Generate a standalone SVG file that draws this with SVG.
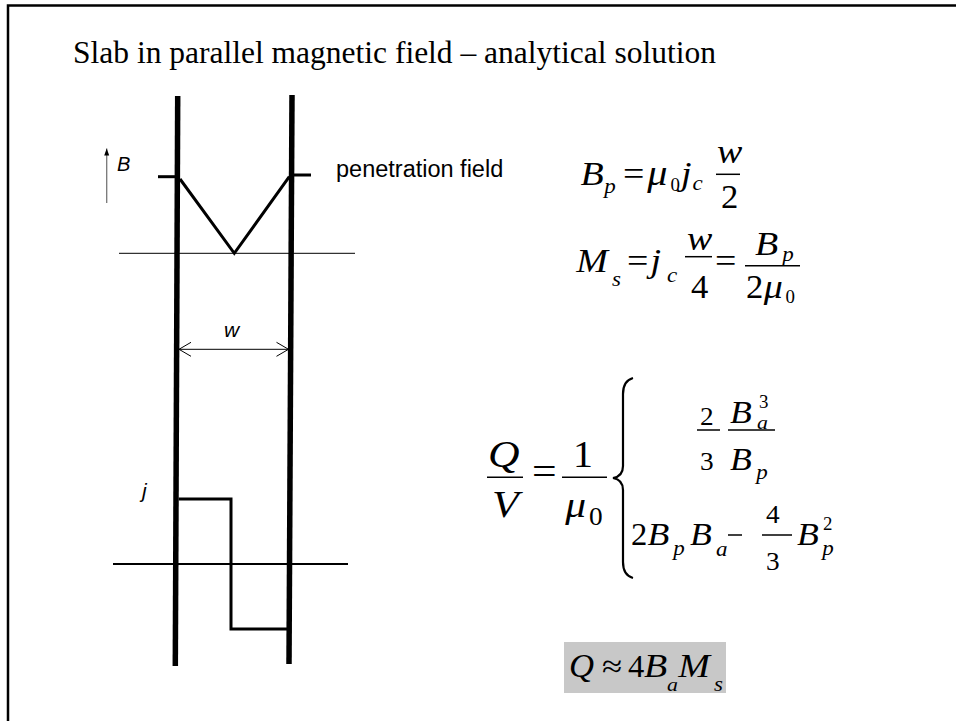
<svg xmlns="http://www.w3.org/2000/svg" width="956" height="721" viewBox="0 0 956 721">
<style>
  .serif { font-family: "Liberation Serif", "Times New Roman", serif; fill: #000; }
  .it { font-style: italic; }
  .eq { transform-box: fill-box; transform-origin: 0 0; transform: scaleX(1.15); }
  .eqd { transform-box: fill-box; transform-origin: 0 0; transform: scaleX(1.05); }
  .sans { font-family: "Liberation Sans", Arial, sans-serif; fill: #000; }
  .bar { stroke: #000; stroke-width: 1.5; fill: none; }
  .thick { stroke: #000; stroke-width: 5.5; fill: none; }
  .prof { stroke: #000; stroke-width: 3; fill: none; stroke-linejoin: miter; }
  .thin { stroke: #000; stroke-width: 1; fill: none; }
  marker { overflow: visible; }
</style>
<defs>
  <marker id="arrB" viewBox="0 0 7 5" refX="7" refY="2.5" markerWidth="7" markerHeight="5" markerUnits="userSpaceOnUse" orient="auto">
    <path d="M0,0 L7,2.5 L0,5 Z" fill="#000"/>
  </marker>
  <marker id="openArr" viewBox="0 0 12 14" refX="12" refY="7" markerWidth="12" markerHeight="14" markerUnits="userSpaceOnUse" orient="auto-start-reverse">
    <path d="M0,0 L12,7 L0,14" fill="none" stroke="#000" stroke-width="1"/>
  </marker>
</defs>
<rect x="0" y="0" width="956" height="721" fill="#fff"/>
<g id="frame">
  <path d="M8,725 L8,5.5 L960,5.5" fill="none" stroke="#000" stroke-width="2.5"/>
</g>
<g id="title">
  <text class="serif" x="73" y="63" font-size="31.5">Slab in parallel magnetic field – analytical solution</text>
</g>
<g id="slab">
  <line class="thick" x1="177.7" y1="96" x2="175.3" y2="666"/>
  <line class="thick" x1="292" y1="95" x2="289" y2="664"/>
</g>
<g id="field-profile">
  <line class="thin" x1="119" y1="253.3" x2="355" y2="253.3"/>
  <line class="prof" x1="158" y1="176.7" x2="177" y2="176.7"/>
  <line class="prof" x1="292" y1="175" x2="311" y2="175"/>
  <polyline class="prof" points="180,179 234.3,253.3 289.3,176.7"/>
  <line x1="106.7" y1="203" x2="106.7" y2="148.5" stroke="#777" stroke-width="1.3" marker-end="url(#arrB)"/>
  <text class="sans it" x="117" y="170.7" font-size="20">B</text>
  <text class="sans" x="336" y="177" font-size="23.5">penetration field</text>
</g>
<g id="width-dim">
  <line class="thin" x1="179" y1="349.3" x2="288.5" y2="349.3" marker-start="url(#openArr)" marker-end="url(#openArr)"/>
  <text class="sans it" x="224" y="336.7" font-size="21">w</text>
</g>
<g id="current-profile">
  <line x1="113" y1="564" x2="348" y2="564" stroke="#000" stroke-width="2"/>
  <polyline class="prof" points="178.7,499 231,499 231,629 287,629"/>
  <text class="sans it" x="142" y="498" font-size="21">j</text>
</g>
<g id="eq-Bp">
  <text class="serif it eq" x="580.5" y="185" font-size="33">B</text>
  <text class="serif it eq" x="604" y="193" font-size="20">p</text>
  <text class="serif eq" x="623" y="185" font-size="33">=</text>
  <text class="serif it eq" x="647" y="185" font-size="35">μ</text>
  <text class="serif eqd" x="670.5" y="191" font-size="18">0</text>
  <text class="serif it eq" x="680.5" y="185" font-size="33">j</text>
  <text class="serif it eq" x="692.5" y="190" font-size="20">c</text>
  <text class="serif it eq" x="717" y="163" font-size="33">w</text>
  <line class="bar" x1="716" y1="174.3" x2="740" y2="174.3"/>
  <text class="serif eqd" x="721" y="208" font-size="33">2</text>
</g>
<g id="eq-Ms">
  <text class="serif it eq" x="576" y="272" font-size="33">M</text>
  <text class="serif it eq" x="612" y="286" font-size="20">s</text>
  <text class="serif eq" x="627" y="272" font-size="33">=</text>
  <text class="serif it eq" x="650" y="272" font-size="33">j</text>
  <text class="serif it eq" x="667" y="282" font-size="20">c</text>
  <text class="serif it eq" x="687" y="250" font-size="33">w</text>
  <line class="bar" x1="685" y1="256.7" x2="712" y2="256.7"/>
  <text class="serif eqd" x="691" y="298" font-size="33">4</text>
  <text class="serif eq" x="715" y="272" font-size="33">=</text>
  <text class="serif it eq" x="755" y="255" font-size="33">B</text>
  <text class="serif it eq" x="782" y="261" font-size="20">p</text>
  <line class="bar" x1="745" y1="265.7" x2="800" y2="265.7"/>
  <text class="serif eqd" x="746" y="298" font-size="33">2</text>
  <text class="serif it eq" x="763.5" y="298" font-size="33">μ</text>
  <text class="serif eqd" x="785.5" y="303" font-size="18">0</text>
</g>
<g id="eq-QV">
  <text class="serif it eq" x="488" y="467" font-size="38">Q</text>
  <line class="bar" x1="487" y1="477.3" x2="523" y2="477.3"/>
  <text class="serif it eq" x="492" y="517" font-size="38">V</text>
  <text class="serif eq" x="532" y="484.5" font-size="38">=</text>
  <text class="serif eqd" x="573" y="467" font-size="38">1</text>
  <line class="bar" x1="562" y1="477.3" x2="607" y2="477.3"/>
  <text class="serif it eq" x="565" y="517" font-size="36">μ</text>
  <text class="serif eqd" x="589" y="525" font-size="26">0</text>
  <path d="M633,378 C626,380 623,385 623,394 L623,466 C623,473 619,477 613,478 C619,479 623,483 623,490 L623,562 C623,571 626,576 633,578" fill="none" stroke="#000" stroke-width="2.2"/>
  <text class="serif eqd" x="700" y="425" font-size="26">2</text>
  <line class="bar" x1="697" y1="430" x2="720" y2="430"/>
  <text class="serif eqd" x="700" y="470" font-size="26">3</text>
  <text class="serif it eq" x="730" y="423" font-size="31">B</text>
  <text class="serif it eq" x="757" y="429" font-size="19">a</text>
  <text class="serif eqd" x="759" y="408" font-size="18">3</text>
  <line class="bar" x1="728" y1="430" x2="775" y2="430"/>
  <text class="serif it eq" x="730" y="470" font-size="31">B</text>
  <text class="serif it eq" x="756" y="479" font-size="20">p</text>
  <text class="serif eqd" x="631" y="545" font-size="31">2</text>
  <text class="serif it eq" x="647.5" y="545" font-size="31">B</text>
  <text class="serif it eq" x="673" y="555" font-size="20">p</text>
  <text class="serif it eq" x="690" y="545" font-size="31">B</text>
  <text class="serif it eq" x="716" y="556" font-size="20">a</text>
  <line x1="728" y1="535" x2="742" y2="535" stroke="#000" stroke-width="1.5"/>
  <text class="serif eqd" x="766" y="523" font-size="26">4</text>
  <line class="bar" x1="762" y1="535" x2="792" y2="535"/>
  <text class="serif eqd" x="766" y="570" font-size="26">3</text>
  <text class="serif it eq" x="797" y="545" font-size="31">B</text>
  <text class="serif it eq" x="822" y="555" font-size="20">p</text>
  <text class="serif eqd" x="823" y="530" font-size="18">2</text>
</g>
<g id="eq-Q-approx">
  <rect x="564" y="642" width="162" height="51" fill="#c8c8c8"/>
  <text class="serif it eqd" x="569" y="677" font-size="33">Q</text>
  <text class="serif eq" x="602" y="677" font-size="32">≈</text>
  <text class="serif eqd" x="628" y="677" font-size="31">4</text>
  <text class="serif it eq" x="644" y="677" font-size="33">B</text>
  <text class="serif it eq" x="667" y="691" font-size="19">a</text>
  <text class="serif it eq" x="678" y="677" font-size="33">M</text>
  <text class="serif it eq" x="714" y="691" font-size="20">s</text>
</g>
</svg>
